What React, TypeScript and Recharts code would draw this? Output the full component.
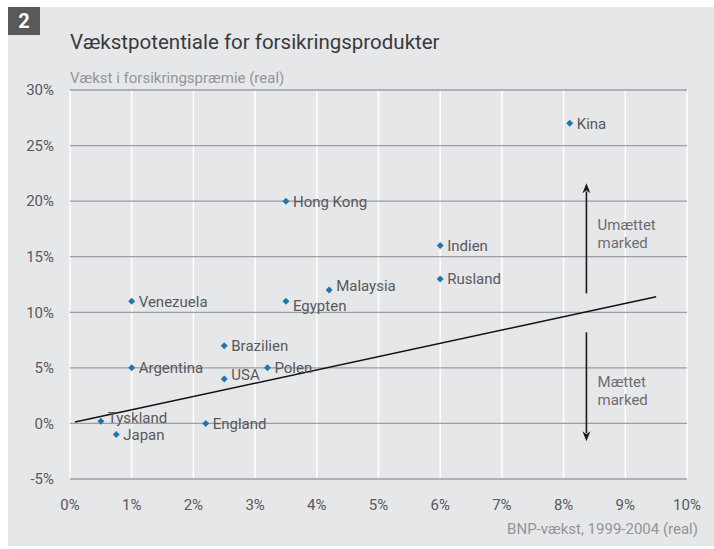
import React from "react"
import {
  ScatterChart,
  Scatter,
  XAxis,
  YAxis,
  CartesianGrid,
  ReferenceLine,
  ReferenceDot,
} from "recharts"

// GDP growth (x, %) vs real premium growth (y, %)
const countries = [
  "Kina", "Hong Kong", "Indien", "Rusland", "Malaysia", "Egypten", "Venezuela",
  "Brazilien", "Argentina", "USA", "Polen", "Tyskland", "Japan", "England",
]
const gdpGrowth = [8.1, 3.5, 6.0, 6.0, 4.2, 3.5, 1.0, 2.5, 1.0, 2.5, 3.2, 0.5, 0.75, 2.2]
const premiumGrowth = [27, 20, 16, 13, 12, 11, 11, 7, 5, 4, 5, 0.2, -1, 0]

const xTicks = [0, 1, 2, 3, 4, 5, 6, 7, 8, 9, 10]
const yTicks = [-5, 0, 5, 10, 15, 20, 25, 30]

// trend line end points
const trendX = [0.08, 9.5]
const trendY = [0.12, 11.4]

// arrows: x position, from y, to y
const arrowX = 8.37
const upArrow = [11.7, 21.6]
const downArrow = [8.2, -1.6]

const notes = [
  { x: 8.55, y: 17.4, lines: ["Umættet", "marked"] },
  { x: 8.55, y: 3.25, lines: ["Mættet", "marked"] },
]

// small label nudges (px) so labels don't collide
const labelNudge: Record<string, number> = {
  Malaysia: -4,
  Egypten: 4,
  USA: -4,
  Tyskland: -4,
}

const points = countries.map((name, i) => ({
  name,
  x: gdpGrowth[i],
  y: premiumGrowth[i],
}))

const font = "Roboto, 'Noto Sans', sans-serif"
const tickStyle = { fill: "#58595b", fontSize: 15, fontFamily: font }

const Diamond = (props: any) => {
  const { cx, cy, payload } = props
  if (cx == null || cy == null) return null
  const r = 3.5
  const dy = labelNudge[payload.name] || 0
  return (
    <g>
      <polygon
        points={`${cx},${cy - r} ${cx + r},${cy} ${cx},${cy + r} ${cx - r},${cy}`}
        fill="#1f78ad"
      />
      <text
        x={cx + 7}
        y={cy + dy}
        dy="0.36em"
        fontSize={15}
        fontFamily={font}
        fill="#58595b"
      >
        {payload.name}
      </text>
    </g>
  )
}

const Arrow = (props: any) => {
  const { x1, y1, x2, y2 } = props
  if (x1 == null) return null
  const dir = y2 < y1 ? -1 : 1
  const tipY = y2
  return (
    <g>
      <line x1={x1} y1={y1} x2={x2} y2={tipY - dir * 8} stroke="#1a1a1a" strokeWidth={1.6} />
      <polygon
        points={`${x2},${tipY} ${x2 - 4},${tipY - dir * 10} ${x2},${tipY - dir * 7} ${x2 + 4},${tipY - dir * 10}`}
        fill="#1a1a1a"
      />
    </g>
  )
}

const noteShape = (lines: string[]) => (props: any) => {
  const { cx, cy } = props
  if (cx == null) return null
  return (
    <text x={cx} y={cy} fontSize={15} fontFamily={font} fill="#6d6e71">
      {lines.map((l, i) => (
        <tspan key={l} x={cx} dy={i === 0 ? 0 : 18}>
          {l}
        </tspan>
      ))}
    </text>
  )
}

export default function App() {
  return (
    <div
      style={{
        position: "absolute",
        left: 0,
        top: 0,
        width: 714,
        height: 549,
        background: "#fff",
        fontFamily: font,
      }}
    >
      <div
        style={{
          position: "absolute",
          left: 8,
          top: 7,
          width: 706,
          height: 539,
          background: "#e6e7e9",
        }}
      />
      <div
        style={{
          position: "absolute",
          left: 8,
          top: 7,
          width: 32,
          height: 28,
          background: "#58595b",
          color: "#fff",
          fontWeight: 700,
          fontSize: 20,
          lineHeight: "28px",
          textAlign: "center",
        }}
      >
        2
      </div>
      <div
        style={{
          position: "absolute",
          left: 70,
          top: 32,
          fontSize: 20.5,
          lineHeight: "21px",
          color: "#3a3a3c",
          whiteSpace: "nowrap",
        }}
      >
        Vækstpotentiale for forsikringsprodukter
      </div>
      <div
        style={{
          position: "absolute",
          left: 70,
          top: 71,
          fontSize: 15,
          lineHeight: "15px",
          color: "#939598",
          whiteSpace: "nowrap",
        }}
      >
        Vækst i forsikringspræmie (real)
      </div>
      <div
        style={{
          position: "absolute",
          right: 16,
          top: 522,
          fontSize: 15,
          lineHeight: "15px",
          color: "#939598",
          whiteSpace: "nowrap",
        }}
      >
        BNP-vækst, 1999-2004 (real)
      </div>
      <div style={{ position: "absolute", left: 0, top: 0 }}>
        <ScatterChart
          width={714}
          height={549}
          margin={{ top: 90, right: 27, bottom: 0, left: 0 }}
        >
          <CartesianGrid horizontal={false} stroke="#ffffff" strokeWidth={1.5} />
          <CartesianGrid vertical={false} stroke="#9c9ea6" strokeWidth={1.3} />
          <XAxis
            type="number"
            dataKey="x"
            domain={[0, 10]}
            ticks={xTicks}
            tickFormatter={(v) => `${v}%`}
            height={70}
            axisLine={false}
            tickLine={false}
            tickSize={0}
            tickMargin={20}
            tick={tickStyle}
            interval={0}
          />
          <YAxis
            type="number"
            dataKey="y"
            domain={[-5, 30]}
            ticks={yTicks}
            tickFormatter={(v) => `${v}%`}
            width={70}
            axisLine={false}
            tickLine={false}
            tickSize={0}
            tickMargin={16}
            tick={tickStyle}
            interval={0}
          />
          <ReferenceLine
            segment={[
              { x: trendX[0], y: trendY[0] },
              { x: trendX[1], y: trendY[1] },
            ]}
            stroke="#111"
            strokeWidth={1.5}
          />
          <ReferenceLine
            segment={[
              { x: arrowX, y: upArrow[0] },
              { x: arrowX, y: upArrow[1] },
            ]}
            shape={Arrow}
          />
          <ReferenceLine
            segment={[
              { x: arrowX, y: downArrow[0] },
              { x: arrowX, y: downArrow[1] },
            ]}
            shape={Arrow}
          />
          {notes.map((n) => (
            <ReferenceDot key={n.lines[0]} x={n.x} y={n.y} r={0} shape={noteShape(n.lines)} />
          ))}
          <Scatter data={points} shape={Diamond} isAnimationActive={false} />
        </ScatterChart>
      </div>
    </div>
  )
}
